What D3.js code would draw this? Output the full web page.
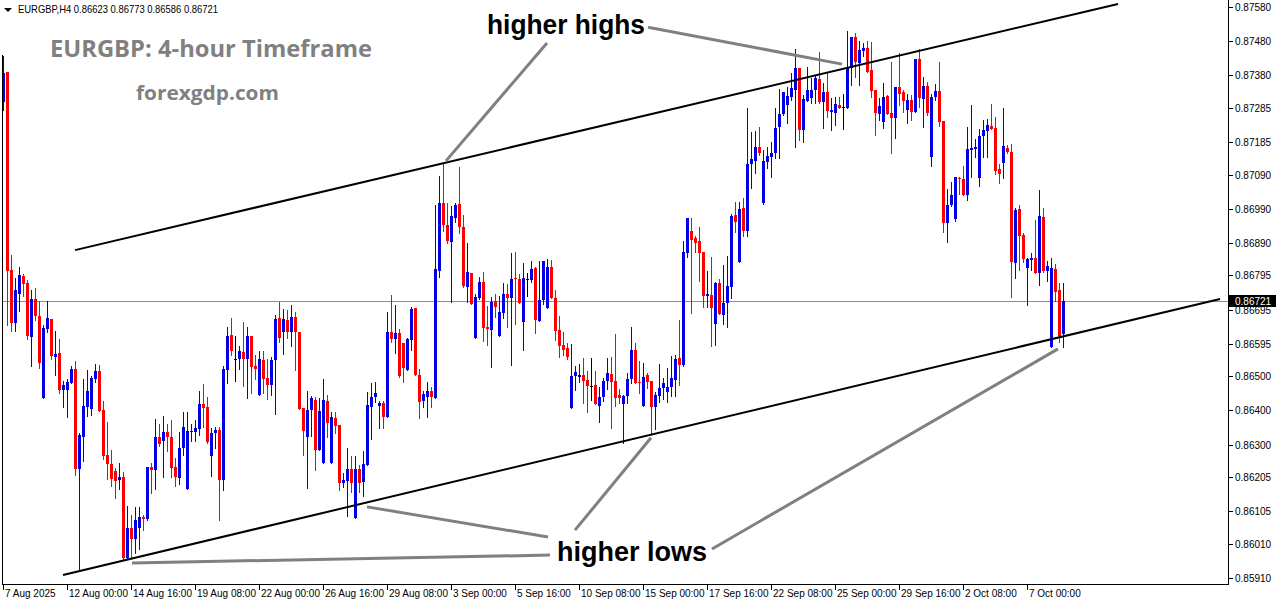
<!DOCTYPE html>
<html><head><meta charset="utf-8">
<script src="https://cdn.jsdelivr.net/npm/d3@7"></script>
<style>html,body{margin:0;padding:0;background:#fff;overflow:hidden}</style>
</head><body>
<svg id="c" width="1276" height="604"></svg>
<script>
const openP = [0.87302,0.87389,0.86810,0.86655,0.86740,0.86793,0.86772,0.86614,0.86725,0.86676,0.86436,0.86638,0.86667,0.86556,0.86568,0.86459,0.86459,0.86480,0.86521,0.86228,0.86322,0.86410,0.86404,0.86491,0.86515,0.86401,0.86269,0.86243,0.86222,0.86196,0.86205,0.85968,0.86056,0.86023,0.86056,0.86088,0.86082,0.86234,0.86225,0.86322,0.86310,0.86336,0.86322,0.86234,0.86202,0.86290,0.86170,0.86336,0.86336,0.86345,0.86418,0.86410,0.86266,0.86334,0.86342,0.86196,0.86518,0.86620,0.86550,0.86550,0.86570,0.86550,0.86617,0.86529,0.86445,0.86547,0.86494,0.86474,0.86547,0.86670,0.86629,0.86664,0.86629,0.86673,0.86629,0.86407,0.86322,0.86401,0.86430,0.86284,0.86246,0.86427,0.86246,0.86377,0.86357,0.86187,0.86193,0.86228,0.86085,0.86228,0.86190,0.86240,0.86410,0.86439,0.86412,0.86421,0.86380,0.86629,0.86608,0.86626,0.86597,0.86518,0.86606,0.86699,0.86503,0.86427,0.86439,0.86456,0.86436,0.86807,0.87006,0.86942,0.86892,0.86962,0.87003,0.86936,0.86760,0.86801,0.86611,0.86728,0.86775,0.86644,0.86635,0.86720,0.86617,0.86685,0.86740,0.86728,0.86787,0.86784,0.86658,0.86784,0.86781,0.86816,0.86661,0.86723,0.86699,0.86819,0.86728,0.86635,0.86591,0.86582,0.86407,0.86500,0.86497,0.86503,0.86489,0.86471,0.86474,0.86412,0.86439,0.86486,0.86506,0.86486,0.86445,0.86418,0.86442,0.86491,0.86576,0.86483,0.86412,0.86503,0.86486,0.86410,0.86442,0.86465,0.86453,0.86468,0.86489,0.86553,0.86532,0.86860,0.86924,0.86904,0.86895,0.86863,0.86734,0.86737,0.86652,0.86772,0.86679,0.86714,0.86760,0.86971,0.86834,0.86992,0.86924,0.87120,0.87129,0.87170,0.87006,0.87126,0.87141,0.87153,0.87229,0.87267,0.87293,0.87316,0.87337,0.87401,0.87220,0.87305,0.87313,0.87337,0.87369,0.87302,0.87331,0.87272,0.87270,0.87293,0.87287,0.87284,0.87401,0.87492,0.87416,0.87451,0.87460,0.87395,0.87337,0.87267,0.87243,0.87319,0.87270,0.87255,0.87346,0.87331,0.87278,0.87308,0.87272,0.87427,0.87310,0.87348,0.87141,0.87316,0.87334,0.87246,0.86948,0.87000,0.86959,0.87079,0.87076,0.87030,0.87161,0.87164,0.87079,0.87202,0.87217,0.87231,0.87226,0.87106,0.87123,0.87167,0.87155,0.86831,0.86989,0.86913,0.86816,0.86840,0.86845,0.86801,0.86965,0.86807,0.86585,0.86813,0.86752,0.86623];
const highP = [0.87436,0.87389,0.86854,0.86787,0.86819,0.86799,0.86781,0.86752,0.86758,0.86720,0.86649,0.86720,0.86667,0.86632,0.86608,0.86486,0.86491,0.86529,0.86544,0.86334,0.86491,0.86518,0.86500,0.86535,0.86532,0.86427,0.86366,0.86284,0.86231,0.86246,0.86219,0.86120,0.86094,0.86117,0.86117,0.86094,0.86234,0.86246,0.86374,0.86360,0.86383,0.86360,0.86372,0.86260,0.86336,0.86395,0.86395,0.86360,0.86372,0.86456,0.86477,0.86439,0.86348,0.86351,0.86351,0.86529,0.86644,0.86670,0.86617,0.86588,0.86658,0.86644,0.86617,0.86562,0.86573,0.86573,0.86550,0.86556,0.86679,0.86717,0.86696,0.86693,0.86708,0.86687,0.86629,0.86407,0.86456,0.86442,0.86439,0.86436,0.86491,0.86445,0.86395,0.86395,0.86357,0.86217,0.86290,0.86266,0.86266,0.86240,0.86281,0.86453,0.86480,0.86483,0.86427,0.86427,0.86687,0.86737,0.86708,0.86638,0.86597,0.86611,0.86702,0.86699,0.86521,0.86456,0.86483,0.86468,0.87000,0.87085,0.87123,0.87006,0.86997,0.87006,0.87112,0.86971,0.86889,0.86801,0.86740,0.86790,0.86804,0.86705,0.86731,0.86740,0.86734,0.86772,0.86769,0.86860,0.86863,0.86799,0.86831,0.86801,0.86837,0.86819,0.86837,0.86837,0.86842,0.86840,0.86752,0.86676,0.86629,0.86597,0.86594,0.86529,0.86535,0.86553,0.86515,0.86553,0.86515,0.86468,0.86494,0.86553,0.86556,0.86623,0.86462,0.86445,0.86509,0.86644,0.86597,0.86544,0.86538,0.86509,0.86486,0.86453,0.86535,0.86494,0.86524,0.86559,0.86562,0.86664,0.86895,0.86962,0.86962,0.86910,0.86936,0.86863,0.86807,0.86848,0.86775,0.86784,0.86825,0.86851,0.86974,0.87009,0.87009,0.87021,0.87284,0.87214,0.87217,0.87229,0.87161,0.87170,0.87185,0.87284,0.87340,0.87331,0.87346,0.87386,0.87457,0.87401,0.87322,0.87404,0.87372,0.87378,0.87448,0.87357,0.87386,0.87313,0.87316,0.87316,0.87325,0.87509,0.87492,0.87504,0.87480,0.87474,0.87480,0.87477,0.87337,0.87313,0.87357,0.87322,0.87419,0.87346,0.87445,0.87337,0.87325,0.87322,0.87427,0.87457,0.87375,0.87360,0.87325,0.87354,0.87419,0.87246,0.87047,0.87068,0.87082,0.87082,0.87114,0.87229,0.87293,0.87193,0.87223,0.87249,0.87252,0.87296,0.87258,0.87120,0.87284,0.87176,0.87179,0.86992,0.87000,0.86918,0.86845,0.86860,0.86957,0.87044,0.86992,0.86837,0.86845,0.86828,0.86772,0.86773];
const lowP = [0.87278,0.86649,0.86632,0.86632,0.86690,0.86734,0.86608,0.86529,0.86664,0.86524,0.86436,0.86629,0.86550,0.86503,0.86451,0.86410,0.86380,0.86480,0.86211,0.85933,0.86252,0.86383,0.86386,0.86483,0.86398,0.86257,0.86199,0.86178,0.86143,0.86170,0.85962,0.85968,0.85968,0.85983,0.85994,0.86050,0.86079,0.86158,0.86170,0.86295,0.86205,0.86281,0.86205,0.86178,0.86184,0.86269,0.86170,0.86310,0.86310,0.86328,0.86351,0.86304,0.86208,0.86290,0.86079,0.86167,0.86480,0.86562,0.86486,0.86521,0.86471,0.86436,0.86451,0.86491,0.86445,0.86451,0.86433,0.86445,0.86389,0.86600,0.86565,0.86611,0.86588,0.86518,0.86404,0.86269,0.86173,0.86325,0.86225,0.86284,0.86246,0.86322,0.86246,0.86334,0.86167,0.86176,0.86091,0.86161,0.86085,0.86161,0.86149,0.86240,0.86316,0.86424,0.86348,0.86348,0.86380,0.86600,0.86568,0.86497,0.86483,0.86518,0.86576,0.86503,0.86377,0.86410,0.86380,0.86410,0.86436,0.86790,0.86924,0.86889,0.86717,0.86951,0.86918,0.86760,0.86717,0.86711,0.86611,0.86725,0.86603,0.86591,0.86527,0.86673,0.86617,0.86670,0.86644,0.86532,0.86652,0.86714,0.86576,0.86734,0.86775,0.86626,0.86661,0.86711,0.86699,0.86728,0.86606,0.86556,0.86562,0.86550,0.86407,0.86459,0.86483,0.86421,0.86395,0.86430,0.86418,0.86366,0.86427,0.86462,0.86348,0.86412,0.86421,0.86304,0.86421,0.86480,0.86480,0.86451,0.86412,0.86465,0.86328,0.86345,0.86424,0.86433,0.86424,0.86442,0.86442,0.86474,0.86529,0.86848,0.86685,0.86863,0.86778,0.86702,0.86702,0.86588,0.86591,0.86682,0.86652,0.86644,0.86728,0.86921,0.86834,0.86910,0.86910,0.87050,0.87094,0.87147,0.87003,0.87109,0.87082,0.87138,0.87138,0.87264,0.87240,0.87308,0.87170,0.87191,0.87185,0.87305,0.87299,0.87299,0.87299,0.87226,0.87258,0.87220,0.87234,0.87284,0.87223,0.87284,0.87351,0.87375,0.87351,0.87436,0.87389,0.87316,0.87205,0.87249,0.87226,0.87267,0.87153,0.87196,0.87293,0.87272,0.87240,0.87249,0.87272,0.87287,0.87229,0.87264,0.87114,0.87308,0.87231,0.86921,0.86892,0.86997,0.86954,0.87033,0.87030,0.87015,0.87082,0.87141,0.87056,0.87141,0.87141,0.87223,0.87091,0.87065,0.87079,0.87153,0.86731,0.86787,0.86810,0.86834,0.86708,0.86810,0.86801,0.86766,0.86804,0.86778,0.86585,0.86720,0.86600,0.86586];
const closeP = [0.87386,0.86807,0.86655,0.86752,0.86796,0.86769,0.86617,0.86725,0.86676,0.86538,0.86641,0.86670,0.86559,0.86565,0.86459,0.86474,0.86483,0.86521,0.86228,0.86328,0.86412,0.86456,0.86494,0.86515,0.86398,0.86266,0.86243,0.86199,0.86193,0.86205,0.85968,0.86056,0.86023,0.86079,0.86088,0.86082,0.86234,0.86225,0.86322,0.86301,0.86336,0.86322,0.86231,0.86205,0.86290,0.86351,0.86339,0.86339,0.86348,0.86418,0.86407,0.86307,0.86334,0.86342,0.86196,0.86521,0.86617,0.86573,0.86550,0.86573,0.86550,0.86617,0.86527,0.86521,0.86550,0.86491,0.86474,0.86547,0.86667,0.86611,0.86667,0.86629,0.86673,0.86629,0.86404,0.86339,0.86401,0.86436,0.86284,0.86398,0.86430,0.86363,0.86380,0.86354,0.86187,0.86196,0.86228,0.86187,0.86228,0.86187,0.86243,0.86415,0.86439,0.86451,0.86421,0.86380,0.86629,0.86608,0.86626,0.86500,0.86524,0.86608,0.86696,0.86503,0.86424,0.86448,0.86456,0.86439,0.86813,0.87006,0.86942,0.86895,0.86968,0.87000,0.86936,0.86763,0.86804,0.86711,0.86731,0.86775,0.86641,0.86638,0.86717,0.86702,0.86687,0.86740,0.86728,0.86784,0.86784,0.86714,0.86787,0.86784,0.86813,0.86664,0.86723,0.86837,0.86819,0.86728,0.86632,0.86588,0.86576,0.86556,0.86500,0.86512,0.86503,0.86486,0.86471,0.86471,0.86418,0.86439,0.86486,0.86509,0.86483,0.86436,0.86436,0.86442,0.86491,0.86576,0.86480,0.86480,0.86497,0.86483,0.86410,0.86445,0.86465,0.86480,0.86468,0.86494,0.86550,0.86532,0.86863,0.86962,0.86898,0.86889,0.86860,0.86734,0.86740,0.86699,0.86772,0.86682,0.86714,0.86763,0.86968,0.86951,0.86989,0.86924,0.87120,0.87135,0.87170,0.87153,0.87129,0.87144,0.87153,0.87226,0.87267,0.87331,0.87319,0.87343,0.87401,0.87220,0.87310,0.87337,0.87337,0.87372,0.87302,0.87331,0.87275,0.87278,0.87296,0.87284,0.87287,0.87401,0.87492,0.87419,0.87454,0.87460,0.87389,0.87334,0.87270,0.87290,0.87316,0.87267,0.87255,0.87346,0.87325,0.87305,0.87308,0.87272,0.87427,0.87313,0.87348,0.87270,0.87316,0.87334,0.87243,0.86948,0.87000,0.87030,0.87082,0.87076,0.87030,0.87164,0.87167,0.87170,0.87202,0.87220,0.87234,0.87223,0.87100,0.87091,0.87173,0.87155,0.86834,0.86986,0.86910,0.86842,0.86842,0.86845,0.86801,0.86968,0.86807,0.86822,0.86816,0.86746,0.86617,0.86721];

const priceTicks = [0.87580,0.87480,0.87380,0.87285,0.87185,0.87090,0.86990,0.86890,0.86795,0.86695,0.86595,0.86500,0.86400,0.86300,0.86205,0.86105,0.86010,0.85910];
const timeTickIndex = [0,16,32,48,64,80,96,112,128,144,160,176,192,208,224,240,256];
const timeTickLabels = ["7 Aug 2025","12 Aug 00:00","14 Aug 16:00","19 Aug 08:00","22 Aug 00:00","26 Aug 16:00","29 Aug 08:00","3 Sep 00:00","5 Sep 16:00","10 Sep 08:00","15 Sep 00:00","17 Sep 16:00","22 Sep 08:00","25 Sep 00:00","29 Sep 16:00","2 Oct 08:00","7 Oct 00:00"];
const lastPrice = 0.86721;
const headerText = "EURGBP,H4  0.86623 0.86773 0.86586 0.86721";
// channel lines in (bar index, price)
const channelLines = [
  {i1:18, p1:0.86869, i2:278.75, p2:0.87589},
  {i1:15, p1:0.85919, i2:304.25, p2:0.86726}
];
// grey pointer lines in (bar index, price)
const pointerLines = [
  {i1:136, p1:0.87475, i2:110.75, p2:0.87130},
  {i1:161.25, p1:0.87521, i2:209.75, p2:0.87413},
  {i1:136.25, p1:0.86030, i2:91, p2:0.86118},
  {i1:136.75, p1:0.85977, i2:32.25, p2:0.85954},
  {i1:143, p1:0.86050, i2:162, p2:0.86320},
  {i1:177.25, p1:0.85995, i2:263.75, p2:0.86580}
];

const svg = d3.select("#c");
const x = d3.scaleLinear().domain([0,306]).range([3,1227]);
const y = d3.scaleLinear().domain([0.85910,0.87580]).range([578,7]);
const BLUE = "#0000e6", RED = "#ff0000";

svg.append("rect").attr("width",1276).attr("height",604).attr("fill","#fff");

// current price line
svg.append("line").attr("x1",2).attr("x2",1228)
  .attr("y1",Math.round(y(lastPrice))+0.5).attr("y2",Math.round(y(lastPrice))+0.5)
  .attr("stroke","#8a9099").attr("stroke-width",1);

const bars = openP.map((o,i)=>({i,o,h:highP[i],l:lowP[i],c:closeP[i]}));
const col = d => d.c > d.o ? BLUE : (d.c < d.o ? RED : "#000");
const g = svg.append("g").attr("shape-rendering","crispEdges");
g.selectAll("line.w").data(bars).join("line").attr("class","w")
  .attr("x1",d=>Math.round(x(d.i))+0.5).attr("x2",d=>Math.round(x(d.i))+0.5)
  .attr("y1",d=>Math.round(y(d.h))).attr("y2",d=>Math.round(y(d.l))+1)
  .attr("stroke",col).attr("stroke-width",1);
g.selectAll("rect.b").data(bars).join("rect").attr("class","b")
  .attr("x",d=>Math.round(x(d.i))-1).attr("width",3)
  .attr("y",d=>Math.round(y(Math.max(d.o,d.c))))
  .attr("height",d=>Math.max(1,Math.round(y(Math.min(d.o,d.c)))-Math.round(y(Math.max(d.o,d.c)))))
  .attr("fill",col);

// channel lines
svg.selectAll("line.ch").data(channelLines).join("line").attr("class","ch")
  .attr("x1",d=>x(d.i1)).attr("y1",d=>y(d.p1)).attr("x2",d=>x(d.i2)).attr("y2",d=>y(d.p2))
  .attr("stroke","#000").attr("stroke-width",2);
// pointer lines
svg.selectAll("line.pt").data(pointerLines).join("line").attr("class","pt")
  .attr("x1",d=>x(d.i1)).attr("y1",d=>y(d.p1)).attr("x2",d=>x(d.i2)).attr("y2",d=>y(d.p2))
  .attr("stroke","#808080").attr("stroke-width",3);

// annotation texts
function txt(t,xx,yy,size,fill,len,family){
  return svg.append("text").attr("x",xx).attr("y",yy).text(t)
    .attr("font-family",family||"'Open Sans', 'DejaVu Sans', sans-serif").attr("font-weight","bold")
    .attr("font-size",size).attr("fill",fill)
    .attr("textLength",len).attr("lengthAdjust","spacingAndGlyphs");
}
txt("higher highs",487,34,27,"#000",158,"'Liberation Sans', Arial, sans-serif");
txt("higher lows",557,561,27,"#000",150,"'Liberation Sans', Arial, sans-serif");
txt("EURGBP: 4-hour Timeframe",50,57,23,"#808080",322);
txt("forexgdp.com",136,100,20,"#808080",143);

// header
svg.append("path").attr("d","M4,8 L12,8 L8,12 Z").attr("fill","#000");
svg.append("text").attr("x",18).attr("y",13).text(headerText)
  .attr("font-family","'Liberation Sans', Arial, sans-serif").attr("font-size",10.5).attr("fill","#000")
  .attr("textLength",200).attr("lengthAdjust","spacingAndGlyphs");

// frame / axes
const ax = svg.append("g").attr("shape-rendering","crispEdges");
ax.append("line").attr("x1",2.5).attr("x2",2.5).attr("y1",55).attr("y2",585).attr("stroke","#000");
ax.append("line").attr("x1",1228.5).attr("x2",1228.5).attr("y1",0).attr("y2",585).attr("stroke","#000");
ax.append("line").attr("x1",2).attr("x2",1229).attr("y1",584.5).attr("y2",584.5).attr("stroke","#000");

ax.selectAll("line.pt2").data(priceTicks).join("line").attr("class","pt2")
  .attr("x1",1228).attr("x2",1233).attr("y1",d=>Math.round(y(d))+0.5).attr("y2",d=>Math.round(y(d))+0.5).attr("stroke","#000");
svg.selectAll("text.pl").data(priceTicks).join("text").attr("class","pl")
  .attr("x",1235).attr("y",d=>Math.round(y(d))+4).text(d=>d.toFixed(5))
  .attr("font-family","'Liberation Sans', Arial, sans-serif").attr("font-size",10).attr("fill","#000");

ax.selectAll("line.tt").data(timeTickIndex).join("line").attr("class","tt")
  .attr("x1",d=>Math.round(x(d))+0.5).attr("x2",d=>Math.round(x(d))+0.5).attr("y1",585).attr("y2",590).attr("stroke","#000");
svg.selectAll("text.tl").data(timeTickIndex).join("text").attr("class","tl")
  .attr("x",d=>Math.round(x(d))+2).attr("y",597).text((d,k)=>timeTickLabels[k])
  .attr("font-family","'Liberation Sans', Arial, sans-serif").attr("font-size",10).attr("fill","#000");

// last price tag
const ly = Math.round(y(lastPrice));
svg.append("rect").attr("x",1229).attr("y",ly-6).attr("width",47).attr("height",12).attr("fill","#000");
svg.append("text").attr("x",1235).attr("y",ly+4).text(lastPrice.toFixed(5))
  .attr("font-family","'Liberation Sans', Arial, sans-serif").attr("font-size",10).attr("fill","#fff");
</script>
</body></html>
